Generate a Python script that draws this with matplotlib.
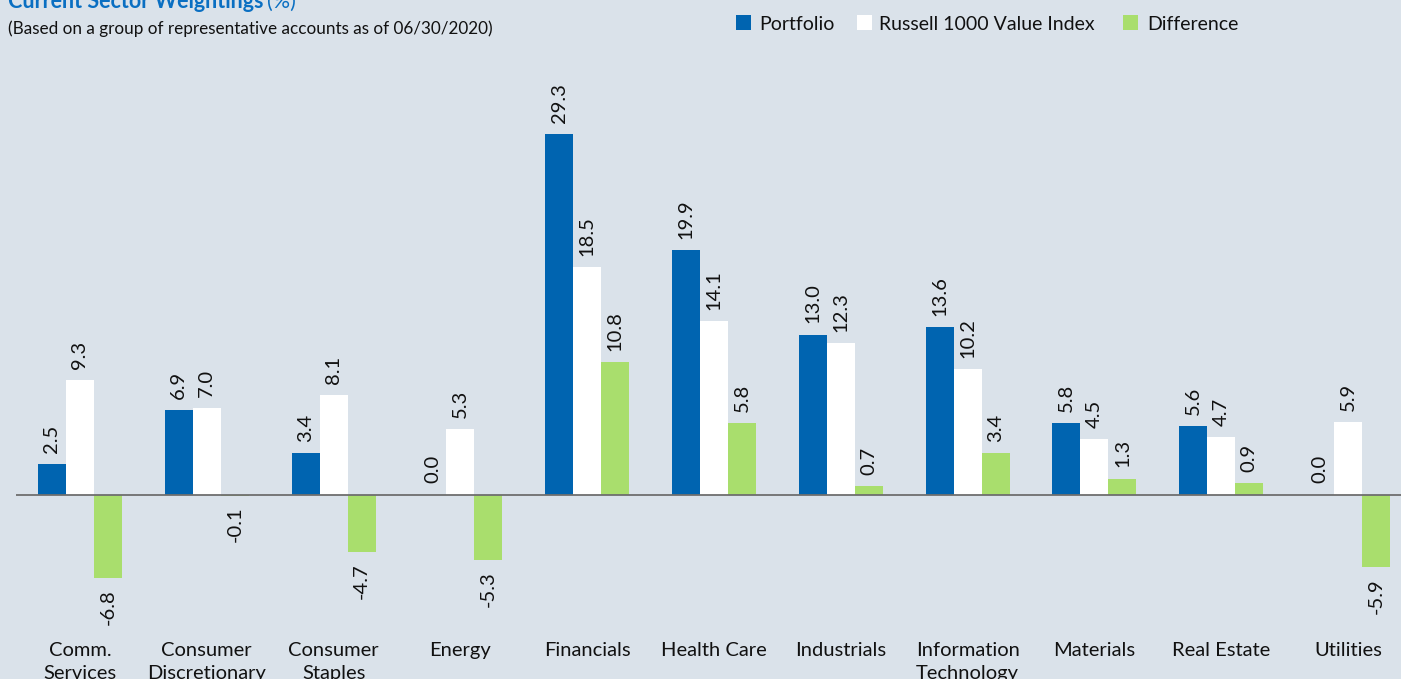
import matplotlib
matplotlib.use("Agg")
import matplotlib.pyplot as plt
from matplotlib.patches import Rectangle
import matplotlib.transforms as mtransforms

categories = ["Comm.\nServices", "Consumer\nDiscretionary", "Consumer\nStaples", "Energy",
              "Financials", "Health Care", "Industrials", "Information\nTechnology",
              "Materials", "Real Estate", "Utilities"]
portfolio = [2.5, 6.9, 3.4, 0.0, 29.3, 19.9, 13.0, 13.6, 5.8, 5.6, 0.0]
russell = [9.3, 7.0, 8.1, 5.3, 18.5, 14.1, 12.3, 10.2, 4.5, 4.7, 5.9]
difference = [-6.8, -0.1, -4.7, -5.3, 10.8, 5.8, 0.7, 3.4, 1.3, 0.9, -5.9]
series_names = ["Portfolio", "Russell 1000 Value Index", "Difference"]

BG = "#dae2ea"
BLUE = "#0064b0"
WHITE = "#ffffff"
GREEN = "#a9de6d"
TITLE_BLUE = "#0a6fc2"
FONT = "Lato"

W, H = 1401, 679
fig = plt.figure(figsize=(W / 100, H / 100), dpi=100, facecolor=BG)

def px(x, y):
    return x / W, 1 - y / H

ax_left, ax_right, ax_top, ax_bot = 16, 1401, 60, 630
ax = fig.add_axes([ax_left / W, 1 - ax_bot / H, (ax_right - ax_left) / W, (ax_bot - ax_top) / H])
ax.set_facecolor(BG)
for s in ax.spines.values():
    s.set_visible(False)
ax.set_xticks([])
ax.set_yticks([])

spacing = 126.8
x0 = 80
ax.set_xlim((ax_left - x0) / spacing, (ax_right - x0) / spacing)
zero_px = 494.5
scale = 12.3
ax.set_ylim(-(ax_bot - zero_px) / scale, (zero_px - ax_top) / scale)

bw = 0.221
xs = list(range(len(categories)))
colors = [BLUE, WHITE, GREEN]
for k, (vals, c) in enumerate(zip([portfolio, russell, difference], colors)):
    pos = [x + (k - 1) * bw for x in xs]
    ax.bar(pos, vals, width=bw, color=c, edgecolor="none", zorder=2)
    for p, v in zip(pos, vals):
        if v >= 0:
            ax.annotate(f"{v:.1f}", (p, v), xytext=(0, 8), textcoords="offset points",
                        rotation=90, ha="center", va="bottom", fontsize=14.5,
                        family=FONT, color="#111111")
        else:
            ax.annotate(f"{v:.1f}", (p, v), xytext=(0, -8), textcoords="offset points",
                        rotation=90, ha="center", va="top", fontsize=14.5,
                        family=FONT, color="#111111")

ax.axhline(0, color="#6e6e6e", lw=1.3, zorder=3)

trans = mtransforms.blended_transform_factory(ax.transData, fig.transFigure)
for x, lab in zip(xs, categories):
    ax.text(x, 1 - 642 / H, lab, transform=trans, ha="center", va="top",
            fontsize=14.5, family=FONT, color="#111111", linespacing=1.45)

# Title and subtitle
t = fig.text(*px(8, 8), "Current Sector Weightings", fontsize=15.5, fontweight="bold",
             color=TITLE_BLUE, family=FONT, va="baseline", ha="left")
fig.canvas.draw()
bb = t.get_window_extent()
fig.text(bb.x1 / W + 4 / W, 1 - 8 / H, "(%)", fontsize=15.5, color=TITLE_BLUE,
         family=FONT, va="baseline", ha="left")
fig.text(*px(8, 34), "(Based on a group of representative accounts as of 06/30/2020)",
         fontsize=12.3, color="#111111", family=FONT, va="baseline", ha="left")

# Legend
leg_items = [(736, 759), (857, 879), (1123, 1147)]
for (sx, tx), name, c in zip(leg_items, series_names, colors):
    fig.patches.append(Rectangle(px(sx, 30), 15 / W, 15 / H, transform=fig.transFigure,
                                 facecolor=c, edgecolor="none"))
    fig.text(*px(tx, 30), name, fontsize=14, family=FONT, color="#111111",
             va="baseline", ha="left")

fig.savefig("out.png", dpi=100, facecolor=BG)
